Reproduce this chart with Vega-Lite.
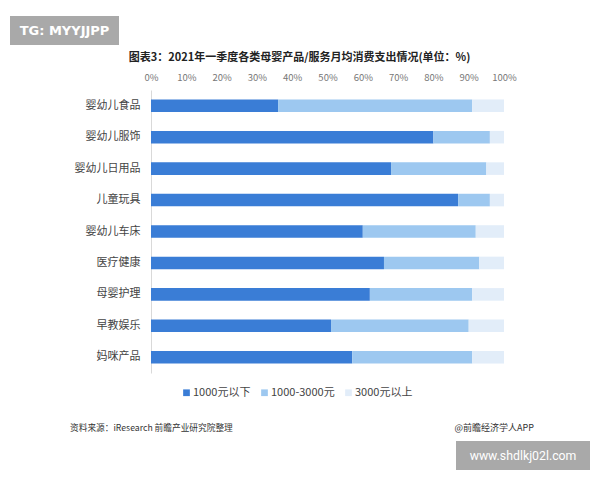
{
  "$schema": "https://vega.github.io/schema/vega-lite/v6.json",
  "padding": {"left": 9, "top": 10, "right": 0, "bottom": 0},
  "background": "white",
  "spacing": 0,
  "resolve": {"legend": {"color": "independent"}},
  "config": {"view": {"stroke": null}, "font": "Noto Sans CJK SC", "concat": {"spacing": 0}},
  "vconcat": [
    {
      "spacing": 0,
      "hconcat": [
        {"width": 1, "height": 1, "data": {"values": [{}]}, "mark": {"type": "text"}, "encoding": {"text": {"value": ""}}},
        {
          "width": 109,
          "height": 29,
          "view": {"fill": "#a9a9a9", "stroke": null},
          "data": {"values": [{"标记": "TG: MYYJJPP"}]},
          "mark": {"type": "text", "color": "white", "font": "DejaVu Sans", "fontSize": 13, "fontWeight": "bold"},
          "encoding": {
            "text": {"field": "标记"},
            "x": {"field": "标记", "type": "nominal", "axis": {"orient": "bottom", "labels": false, "ticks": false, "domain": false, "grid": false, "title": null, "minExtent": 7, "maxExtent": 7}}
          }
        }
      ]
    },
    {
      "spacing": 0,
      "resolve": {"legend": {"color": "independent"}},
      "hconcat": [
        {"width": 1, "height": 1, "data": {"values": [{}]}, "mark": {"type": "text"}, "encoding": {"text": {"value": ""}}},
        {
          "width": 353,
          "height": 283,
          "title": {"text": "图表3：2021年一季度各类母婴产品/服务月均消费支出情况(单位：%)", "fontSize": 11, "fontWeight": "bold", "color": "#222", "anchor": "middle", "frame": "group", "dx": -28, "offset": 9, "font": "Noto Sans CJK SC"},
          "data": {"values": [
            {"类别": "婴幼儿食品", "档位": "1000元以下", "序": 1, "占比": 36},
            {"类别": "婴幼儿食品", "档位": "1000-3000元", "序": 2, "占比": 55},
            {"类别": "婴幼儿食品", "档位": "3000元以上", "序": 3, "占比": 9},
            {"类别": "婴幼儿服饰", "档位": "1000元以下", "序": 1, "占比": 80},
            {"类别": "婴幼儿服饰", "档位": "1000-3000元", "序": 2, "占比": 16},
            {"类别": "婴幼儿服饰", "档位": "3000元以上", "序": 3, "占比": 4},
            {"类别": "婴幼儿日用品", "档位": "1000元以下", "序": 1, "占比": 68},
            {"类别": "婴幼儿日用品", "档位": "1000-3000元", "序": 2, "占比": 27},
            {"类别": "婴幼儿日用品", "档位": "3000元以上", "序": 3, "占比": 5},
            {"类别": "儿童玩具", "档位": "1000元以下", "序": 1, "占比": 87},
            {"类别": "儿童玩具", "档位": "1000-3000元", "序": 2, "占比": 9},
            {"类别": "儿童玩具", "档位": "3000元以上", "序": 3, "占比": 4},
            {"类别": "婴幼儿车床", "档位": "1000元以下", "序": 1, "占比": 60},
            {"类别": "婴幼儿车床", "档位": "1000-3000元", "序": 2, "占比": 32},
            {"类别": "婴幼儿车床", "档位": "3000元以上", "序": 3, "占比": 8},
            {"类别": "医疗健康", "档位": "1000元以下", "序": 1, "占比": 66},
            {"类别": "医疗健康", "档位": "1000-3000元", "序": 2, "占比": 27},
            {"类别": "医疗健康", "档位": "3000元以上", "序": 3, "占比": 7},
            {"类别": "母婴护理", "档位": "1000元以下", "序": 1, "占比": 62},
            {"类别": "母婴护理", "档位": "1000-3000元", "序": 2, "占比": 29},
            {"类别": "母婴护理", "档位": "3000元以上", "序": 3, "占比": 9},
            {"类别": "早教娱乐", "档位": "1000元以下", "序": 1, "占比": 51},
            {"类别": "早教娱乐", "档位": "1000-3000元", "序": 2, "占比": 39},
            {"类别": "早教娱乐", "档位": "3000元以上", "序": 3, "占比": 10},
            {"类别": "妈咪产品", "档位": "1000元以下", "序": 1, "占比": 57},
            {"类别": "妈咪产品", "档位": "1000-3000元", "序": 2, "占比": 34},
            {"类别": "妈咪产品", "档位": "3000元以上", "序": 3, "占比": 9}
          ]},
          "mark": {"type": "bar"},
          "encoding": {
            "y": {"field": "类别", "type": "nominal", "sort": null,
              "scale": {"paddingInner": 0.6, "paddingOuter": 0.3},
              "axis": {"title": null, "ticks": false, "tickSize": 0, "labelPadding": 11, "labelFontSize": 11, "labelColor": "#444", "domainColor": "#d9d9d9", "minExtent": 141, "maxExtent": 141, "labelFont": "Noto Sans CJK SC"}},
            "x": {"field": "占比", "type": "quantitative", "stack": "zero",
              "scale": {"domain": [0, 100], "nice": false},
              "axis": {"orient": "top", "values": [0, 10, 20, 30, 40, 50, 60, 70, 80, 90, 100], "labelExpr": "datum.value + '%'", "title": null, "grid": false, "domain": false, "ticks": false, "tickSize": 0, "labelPadding": 8, "labelFontSize": 9.5, "labelColor": "#777", "labelFont": "Noto Sans CJK SC", "labelFlush": false}},
            "color": {"field": "档位", "type": "nominal",
              "scale": {"domain": ["1000元以下", "1000-3000元", "3000元以上"], "range": ["#3a7dd6", "#9dc8f0", "#e2edf9"]},
              "legend": {"orient": "none", "legendX": 30, "legendY": 297, "direction": "horizontal", "title": null, "symbolType": "square", "symbolSize": 45, "symbolStrokeWidth": 0, "labelFontSize": 11, "labelColor": "#444", "labelFont": "Noto Sans CJK SC", "columnPadding": 8, "labelOffset": 1}},
            "order": {"field": "序", "type": "quantitative"}
          }
        }
      ]
    },
    {
      "spacing": 0,
      "hconcat": [
        {"width": 1, "height": 1, "data": {"values": [{}]}, "mark": {"type": "text"}, "encoding": {"text": {"value": ""}}},
        {
          "width": 464,
          "height": 12,
          "data": {"values": [
            {"位置": "左", "栏": "页脚", "文字": "资料来源：iResearch 前瞻产业研究院整理"},
            {"位置": "右", "栏": "页脚", "文字": "@前瞻经济学人APP"}
          ]},
          "encoding": {
            "x": {"field": "位置", "type": "nominal", "scale": {"type": "point", "domain": ["左", "右"], "padding": 0}, "axis": {"orient": "top", "labels": false, "ticks": false, "domain": false, "grid": false, "title": null, "minExtent": 24, "maxExtent": 24}},
            "y": {"field": "栏", "type": "nominal", "axis": {"labels": false, "ticks": false, "domain": false, "grid": false, "title": null, "minExtent": 60, "maxExtent": 60}},
            "text": {"field": "文字"}
          },
          "layer": [
            {"transform": [{"filter": "datum['位置'] === '左'"}], "mark": {"type": "text", "align": "left", "fontSize": 8.7, "color": "#333", "font": "Noto Sans CJK SC"}},
            {"transform": [{"filter": "datum['位置'] === '右'"}], "mark": {"type": "text", "align": "right", "fontSize": 9, "color": "#333", "font": "Noto Sans CJK SC"}}
          ]
        }
      ]
    },
    {
      "spacing": 0,
      "hconcat": [
        {"width": 1, "height": 1, "data": {"values": [{}]}, "mark": {"type": "text"}, "encoding": {"text": {"value": ""}}},
        {
          "width": 134,
          "height": 29,
          "view": {"fill": "#a9a9a9", "stroke": null},
          "data": {"values": [{"标记": "www.shdlkj02l.com"}]},
          "mark": {"type": "text", "color": "white", "font": "Roboto", "fontSize": 12.3},
          "encoding": {
            "text": {"field": "标记"},
            "x": {"field": "标记", "type": "nominal", "axis": {"orient": "top", "labels": false, "ticks": false, "domain": false, "grid": false, "title": null, "minExtent": 7, "maxExtent": 7}},
            "y": {"field": "标记", "type": "nominal", "axis": {"labels": false, "ticks": false, "domain": false, "grid": false, "title": null, "minExtent": 446, "maxExtent": 446}}
          }
        }
      ]
    }
  ]
}
